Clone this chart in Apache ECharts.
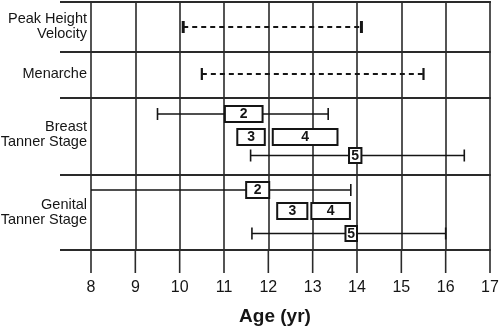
<!DOCTYPE html>
<html>
<head>
<meta charset="utf-8">
<script src="https://cdn.jsdelivr.net/npm/echarts@6/dist/echarts.min.js"></script>
<style>
  html, body { margin: 0; padding: 0; background: #fff; }
  #chart { width: 500px; height: 329px; }
</style>
</head>
<body>
<div id="chart"></div>
<script>
// Age axis
const ageTicks = [8, 9, 10, 11, 12, 13, 14, 15, 16, 17];
const axisTitle = 'Age (yr)';

// Row headings
const rowLabels = ['Peak Height\nVelocity', 'Menarche', 'Breast\nTanner Stage', 'Genital\nTanner Stage'];

// Timing ranges (years) for single events
const phvRange = [10.08, 14.1];
const menarcheRange = [10.5, 15.5];

// Tanner stages: whisker ends and box extents (years)
const stageNames = ['2', '3', '4', '5'];
const breastWhiskerLow  = [9.5, null, null, 11.6];
const breastBoxLow      = [11.02, 11.3, 12.1, 13.82];
const breastBoxHigh     = [11.87, 11.92, 13.56, 14.1];
const breastWhiskerHigh = [13.35, null, null, 16.42];
const genitalWhiskerLow  = [8.0, null, null, 11.63];
const genitalBoxLow      = [11.5, 12.2, 12.97, 13.74];
const genitalBoxHigh     = [12.02, 12.88, 13.84, 14.0];
const genitalWhiskerHigh = [13.86, null, null, 16.0];

// Vertical layout along the lane axis (0 = top of plot)
const laneMax = 248;
const sectionEdges = [0, 50, 96, 173, 248];
const labelCenters = [24.5, 72, 132, 210.5];
const eventLanes = [25, 72];
const breastLanes = [112, 135, 135, 153.5];
const genitalLanes = [188, 209, 209, 231.5];

const INK = '#151515';
const GRID = '#2a2a2a';
const FONT = '"Liberation Sans", Arial, Helvetica, sans-serif';
const xMin = ageTicks[0];
const xMax = ageTicks[ageTicks.length - 1];

function capLine(x, y, h, w) {
  return { type: 'line', shape: { x1: x, y1: y - h / 2, x2: x, y2: y + h / 2 },
           style: { stroke: INK, lineWidth: w } };
}

// Build stage rows
function stageRows(wLo, bLo, bHi, wHi, lanes) {
  return stageNames.map((n, i) => ({ name: n, wLo: wLo[i], bLo: bLo[i], bHi: bHi[i], wHi: wHi[i], lane: lanes[i] }));
}
const stages = stageRows(breastWhiskerLow, breastBoxLow, breastBoxHigh, breastWhiskerHigh, breastLanes)
  .concat(stageRows(genitalWhiskerLow, genitalBoxLow, genitalBoxHigh, genitalWhiskerHigh, genitalLanes));

const events = [
  { lo: phvRange[0], hi: phvRange[1], lane: eventLanes[0], cap: 3 },
  { lo: menarcheRange[0], hi: menarcheRange[1], lane: eventLanes[1], cap: 2.2 }
];

const chart = echarts.init(document.getElementById('chart'), null, { renderer: 'canvas' });

chart.setOption({
  animation: false,
  backgroundColor: '#fff',
  grid: { left: 91, right: 10, top: 2, bottom: 79, containLabel: false, outerBoundsMode: 'none' },
  xAxis: {
    type: 'value',
    min: xMin, max: xMax, interval: 1,
    axisLine: { show: true, lineStyle: { color: GRID, width: 2 } },
    axisTick: { show: false },
    splitLine: { show: true, lineStyle: { color: GRID, width: 1.6 } },
    axisLabel: { fontSize: 16, color: INK, fontFamily: FONT, margin: 30,
                 formatter: v => String(v) },
    name: axisTitle,
    nameLocation: 'middle',
    nameGap: 57,
    nameTextStyle: { fontSize: 19, fontWeight: 'bold', color: INK, fontFamily: FONT, padding: [0, 31, 0, 0] }
  },
  yAxis: {
    type: 'value', min: 0, max: laneMax, inverse: true, show: false
  },
  series: [
    {
      // tick marks hanging below the age axis
      type: 'custom',
      clip: false,
      silent: true,
      data: ageTicks.map(t => [t, laneMax]),
      renderItem(params, api) {
        const p = api.coord([ageTicks[params.dataIndex], laneMax]);
        return { type: 'line', shape: { x1: p[0], y1: p[1], x2: p[0], y2: p[1] + 23 },
                 style: { stroke: GRID, lineWidth: 1.6 } };
      }
    },
    {
      // section separators and row headings
      type: 'custom',
      clip: false,
      silent: true,
      data: sectionEdges.map((e, i) => [xMin, e, i]),
      renderItem(params, api) {
        const i = params.dataIndex;
        const left = api.coord([xMin, sectionEdges[i]]);
        const right = api.coord([xMax, sectionEdges[i]]);
        const children = [{
          type: 'line',
          shape: { x1: left[0] - 31, y1: left[1], x2: right[0] + 0.8, y2: right[1] },
          style: { stroke: GRID, lineWidth: 2 }
        }];
        if (i < rowLabels.length) {
          const p = api.coord([xMin, labelCenters[i]]);
          children.push({
            type: 'text',
            style: { text: rowLabels[i], x: p[0] - 4, y: p[1], align: 'right', verticalAlign: 'middle',
                     font: '14.5px ' + FONT, fill: INK, lineHeight: 15 }
          });
        }
        return { type: 'group', children };
      }
    },
    {
      // dashed event ranges
      type: 'custom',
      clip: false,
      silent: true,
      data: events.map(e => [e.lo, e.lane]),
      renderItem(params, api) {
        const e = events[params.dataIndex];
        const a = api.coord([e.lo, e.lane]);
        const b = api.coord([e.hi, e.lane]);
        return { type: 'group', children: [
          { type: 'line', shape: { x1: a[0], y1: a[1], x2: b[0], y2: b[1] },
            style: { stroke: INK, lineWidth: 2, lineDash: [5, 4] } },
          capLine(a[0], a[1], 12, e.cap),
          capLine(b[0], b[1], 12, e.cap)
        ]};
      }
    },
    {
      // Tanner stage whiskers and boxes
      type: 'custom',
      clip: false,
      silent: true,
      data: stages.map(s => [s.bLo, s.lane]),
      renderItem(params, api) {
        const s = stages[params.dataIndex];
        const children = [];
        if (s.wLo != null && s.wHi != null) {
          const a = api.coord([s.wLo, s.lane]);
          const b = api.coord([s.wHi, s.lane]);
          children.push({ type: 'line', shape: { x1: a[0], y1: a[1], x2: b[0], y2: b[1] },
                          style: { stroke: INK, lineWidth: 1.5 } });
          if (s.wLo > xMin) children.push(capLine(a[0], a[1], 12, 1.6));
          children.push(capLine(b[0], b[1], 12, 1.6));
        }
        const p0 = api.coord([s.bLo, s.lane]);
        const p1 = api.coord([s.bHi, s.lane]);
        const h = s.name === '5' ? 15 : 16;
        children.push({
          type: 'rect',
          shape: { x: p0[0], y: p0[1] - h / 2, width: p1[0] - p0[0], height: h },
          style: { fill: '#fff', stroke: INK, lineWidth: 2 }
        });
        children.push({
          type: 'text',
          style: { text: s.name, x: (p0[0] + p1[0]) / 2, y: p0[1] + 0.5, align: 'center', verticalAlign: 'middle',
                   font: 'bold 14px ' + FONT, fill: INK }
        });
        return { type: 'group', children };
      }
    }
  ]
});
</script>
</body>
</html>
